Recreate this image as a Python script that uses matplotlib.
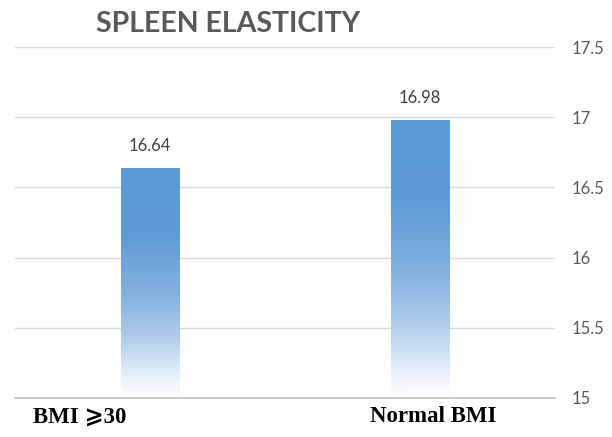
import matplotlib.pyplot as plt
import matplotlib.transforms as mtransforms
import numpy as np
from matplotlib.colors import LinearSegmentedColormap

# spleen elasticity by BMI group
categories = ['BMI \u2a7e30', 'Normal BMI']
values = [16.64, 16.98]
y_ticks = [15, 15.5, 16, 16.5, 17, 17.5]

fig = plt.figure(figsize=(6.12, 4.37), dpi=100)
ax = fig.add_axes([15/612, 39/437, 540/612, 351/437])

# blue at the top, fading out to white near the base
fade = LinearSegmentedColormap.from_list('fade', [
    (0.0, '#ffffff'), (0.08, '#ebf3fb'), (0.28, '#abcaea'),
    (0.45, '#83b2df'), (0.7, '#5d9cd5'), (1.0, '#5b9bd5')])

x = np.arange(len(categories))
bars = ax.bar(x, values, width=0.215, bottom=0, color='none', edgecolor='none', zorder=2)
base = y_ticks[0]
for b, v in zip(bars, values):
    grad = np.linspace(1, 0, 256).reshape(-1, 1)
    im = ax.imshow(grad, cmap=fade, aspect='auto', zorder=2,
                   extent=[b.get_x(), b.get_x() + b.get_width(), base, v])
    im.set_clip_path(b)
    ax.annotate(f'{v:.2f}', (b.get_x() + b.get_width() / 2, v), xytext=(0, 10),
                textcoords='offset points', ha='center', va='bottom',
                fontsize=12, color='#404040', family=['Lato', 'DejaVu Sans'])

ax.set_xlim(-0.5, 1.5)
ax.set_ylim(15, 17.5)
ax.set_yticks(y_ticks)
ax.set_yticklabels(['15', '15.5', '16', '16.5', '17', '17.5'])
ax.yaxis.tick_right()
ax.tick_params(axis='y', length=0, pad=12, labelsize=12, labelcolor='#595959')
for t in ax.get_yticklabels():
    t.set_family(['Lato', 'DejaVu Sans'])
ax.grid(axis='y', color='#d9d9d9', linewidth=1, zorder=0)
ax.set_axisbelow(True)
for s in ['top', 'left', 'right']:
    ax.spines[s].set_visible(False)
ax.spines['bottom'].set_color('#bfbfbf')
ax.spines['bottom'].set_linewidth(1.2)

ax.set_xticks(x)
ax.set_xticklabels(categories)
ax.tick_params(axis='x', length=0, pad=6)
for t in ax.get_xticklabels():
    t.set_family(['Liberation Serif', 'DejaVu Sans'])
    t.set_fontweight('bold')
    t.set_fontsize(16.5)
    t.set_color('black')
# category labels are not centred under their bars
for lbl, dx in zip(ax.get_xticklabels(), [-0.7, 0.13]):
    lbl.set_transform(lbl.get_transform() + mtransforms.ScaledTranslation(dx, 0, fig.dpi_scale_trans))

fig.text(0.372, 0.945, 'SPLEEN ELASTICITY', ha='center', va='center',
         fontsize=20.5, fontweight='bold', color='#595959', family=['Lato', 'DejaVu Sans'])

fig.savefig('out.png', dpi=100)
